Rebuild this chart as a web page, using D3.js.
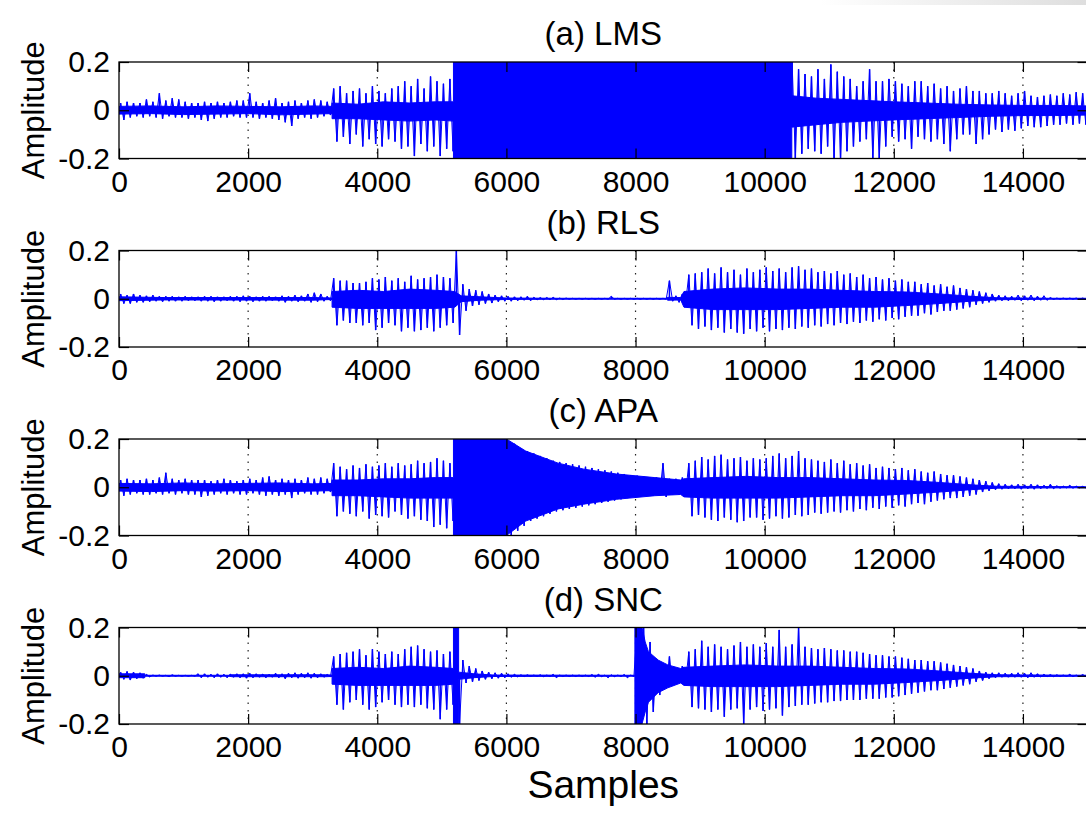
<!DOCTYPE html>
<html>
<head>
<meta charset="utf-8">
<script src="https://cdn.jsdelivr.net/npm/d3@7"></script>
<style>
  body { margin: 0; background: #fff; }
  text { font-family: "Liberation Sans", Arial, Helvetica, sans-serif; fill: #000; }
</style>
</head>
<body>
<svg id="chart"></svg>
<script>
const width = 1086;
const height = 816;

// each panel: envelope per 100-sample bin
const binSize = 100;
const xTicks = [0, 2000, 4000, 6000, 8000, 10000, 12000, 14000];
const yTicks = [-0.2, 0, 0.2];
const yTickLabels = ["-0.2", "0", "0.2"];
const titles = ["(a) LMS", "(b) RLS", "(c) APA", "(d) SNC"];

const lmsHi = [
  .03,.035,.03,.03,.045,.035,.07,.04,.05,.045,
  .035,.03,.03,.035,.03,.035,.03,.035,.04,.04,
  .07,.035,.03,.04,.05,.03,.035,.04,.03,.04,
  .045,.04,.035,.09,.1,.07,.08,.09,.07,.1,
  .08,.07,.09,.1,.12,.1,.13,.09,.14,.12,
  .11,.13,.2,.2,.2,.2,.2,.2,.2,.2,
  .2,.2,.2,.2,.2,.2,.2,.2,.2,.2,
  .2,.2,.2,.2,.2,.2,.2,.2,.2,.2,
  .2,.2,.2,.2,.2,.2,.2,.2,.2,.2,
  .2,.2,.2,.2,.2,.2,.2,.2,.2,.2,
  .2,.2,.2,.2,.2,.17,.15,.14,.17,.13,
  .19,.16,.14,.13,.1,.12,.17,.12,.12,.13,
  .12,.11,.1,.12,.12,.1,.11,.09,.1,.08,
  .09,.1,.08,.08,.07,.07,.08,.07,.06,.07,
  .08,.06,.055,.06,.065,.06,.07,.065,.075,.07
];
const lmsLo = [
  -.04,-.03,-.025,-.03,-.025,-.03,-.035,-.025,-.03,-.03,
  -.035,-.03,-.04,-.045,-.035,-.03,-.03,-.025,-.03,-.03,
  -.03,-.035,-.03,-.035,-.04,-.05,-.065,-.035,-.03,-.035,
  -.03,-.025,-.02,-.13,-.11,-.14,-.1,-.15,-.12,-.14,
  -.15,-.12,-.13,-.16,-.15,-.19,-.14,-.17,-.15,-.19,
  -.16,-.17,-.2,-.2,-.2,-.2,-.2,-.2,-.2,-.2,
  -.2,-.2,-.2,-.2,-.2,-.2,-.2,-.2,-.2,-.2,
  -.2,-.2,-.2,-.2,-.2,-.2,-.2,-.2,-.2,-.2,
  -.2,-.2,-.2,-.2,-.2,-.2,-.2,-.2,-.2,-.2,
  -.2,-.2,-.2,-.2,-.2,-.2,-.2,-.2,-.2,-.2,
  -.2,-.2,-.2,-.2,-.2,-.18,-.16,-.17,-.18,-.15,
  -.2,-.2,-.17,-.15,-.13,-.12,-.2,-.2,-.15,-.11,
  -.13,-.12,-.16,-.11,-.12,-.13,-.12,-.14,-.17,-.12,
  -.1,-.1,-.14,-.12,-.1,-.08,-.09,-.08,-.085,-.075,
  -.065,-.07,-.07,-.065,-.06,-.06,-.055,-.06,-.055,-.06
];
// dense (solid) middle of the trace: [sample, top, bottom]
const lmsCore = [
  [0, .016, -.016], [500, .018, -.014], [1000, .014, -.018], [1500, .018, -.016],
  [2000, .016, -.014], [2500, .014, -.019], [3000, .018, -.016], [3300, .016, -.014],
  [3300, .03, -.035], [3700, .025, -.035], [4100, .035, -.04], [4500, .03, -.045],
  [4900, .035, -.04], [5180, .035, -.045], [5180, .2, -.2], [10420, .2, -.2],
  [10420, .06, -.07], [10800, .05, -.06], [11200, .045, -.05], [11600, .04, -.045],
  [12000, .035, -.04], [12500, .03, -.035], [13000, .025, -.03], [13500, .022, -.025],
  [14000, .02, -.022], [14500, .02, -.022], [15000, .018, -.02]
];

const rlsHi = [
  .02,.015,.02,.015,.012,.015,.01,.01,.01,.008,
  .01,.008,.008,.01,.01,.008,.008,.01,.01,.012,
  .01,.008,.01,.01,.008,.012,.01,.015,.012,.02,
  .025,.02,.01,.085,.075,.075,.065,.065,.07,.085,
  .08,.09,.075,.085,.07,.095,.08,.085,.09,.1,
  .09,.085,.2,.06,.04,.035,.03,.02,.015,.012,
  .01,.008,.008,.01,.006,.005,.005,.006,.003,.003,
  .002,.002,.002,.002,.002,.002,.01,.002,.002,.002,
  .002,.002,.002,.002,.002,.075,.012,.02,.1,.105,
  .11,.125,.105,.13,.11,.12,.1,.125,.11,.12,
  .13,.115,.125,.11,.13,.135,.12,.125,.11,.115,
  .105,.115,.1,.105,.09,.1,.085,.09,.08,.085,
  .075,.08,.07,.07,.06,.065,.055,.06,.05,.055,
  .045,.04,.035,.03,.025,.02,.015,.012,.01,.015,
  .012,.015,.01,.012,.005,.003,.003,.003,.003,.003
];
const rlsLo = [
  -.02,-.02,-.015,-.015,-.012,-.01,-.012,-.01,-.01,-.01,
  -.008,-.008,-.01,-.01,-.012,-.01,-.008,-.01,-.012,-.01,
  -.012,-.01,-.01,-.008,-.01,-.015,-.01,-.012,-.01,-.015,
  -.012,-.01,-.008,-.11,-.09,-.1,-.1,-.11,-.1,-.13,
  -.12,-.1,-.11,-.135,-.12,-.135,-.13,-.12,-.135,-.12,
  -.11,-.1,-.15,-.05,-.03,-.025,-.02,-.018,-.012,-.01,
  -.01,-.008,-.006,-.008,-.005,-.004,-.004,-.004,-.003,-.002,
  -.002,-.002,-.002,-.002,-.002,-.002,-.002,-.002,-.002,-.002,
  -.002,-.002,-.002,-.002,-.002,-.01,-.015,-.02,-.11,-.125,
  -.115,-.13,-.12,-.14,-.125,-.14,-.145,-.125,-.135,-.12,
  -.135,-.125,-.13,-.12,-.125,-.115,-.12,-.11,-.115,-.105,
  -.11,-.1,-.105,-.095,-.1,-.09,-.095,-.085,-.09,-.08,
  -.085,-.075,-.07,-.07,-.06,-.065,-.055,-.05,-.05,-.045,
  -.04,-.035,-.025,-.02,-.015,-.01,-.008,-.008,-.006,-.008,
  -.006,-.008,-.006,-.006,-.003,-.002,-.002,-.002,-.002,-.002
];
const rlsCore = [
  [0, .008, -.008], [700, .005, -.005], [3000, .005, -.006], [3300, .003, -.003],
  [3300, .03, -.035], [3700, .035, -.04], [4100, .03, -.04], [4500, .04, -.04],
  [4900, .035, -.04], [5200, .03, -.035], [5300, .012, -.012], [5600, .008, -.006],
  [6000, .003, -.003], [6800, .002, -.002], [8480, .002, -.002], [8500, .006, -.006],
  [8700, .005, -.005], [8750, .03, -.035], [9200, .04, -.045], [9700, .045, -.045],
  [10200, .04, -.045], [10700, .04, -.04], [11200, .035, -.035], [11700, .03, -.035],
  [12200, .028, -.028], [12700, .02, -.02], [13200, .01, -.01], [13600, .004, -.004],
  [14400, .002, -.002], [15000, .002, -.002]
];

const apaHi = [
  .03,.035,.03,.03,.035,.03,.04,.06,.035,.03,
  .035,.03,.03,.03,.025,.03,.035,.03,.025,.03,
  .035,.03,.04,.045,.03,.035,.03,.035,.03,.04,
  .035,.04,.035,.1,.085,.075,.09,.08,.095,.085,
  .09,.1,.085,.1,.09,.095,.11,.1,.105,.12,
  .11,.1,.2,.2,.2,.2,.2,.2,.2,.2,
  .19,.18,.16,.15,.14,.13,.12,.11,.105,.1,
  .095,.09,.085,.08,.075,.07,.065,.06,.055,.05,
  .048,.045,.04,.04,.1,.035,.035,.04,.1,.11,
  .125,.115,.13,.135,.115,.12,.125,.11,.12,.115,
  .12,.13,.14,.12,.13,.15,.12,.115,.11,.105,
  .115,.1,.11,.095,.1,.09,.095,.08,.085,.08,
  .075,.08,.07,.075,.065,.06,.065,.055,.05,.05,
  .045,.04,.035,.03,.025,.02,.015,.012,.01,.012,
  .01,.012,.01,.008,.012,.006,.005,.008,.005,.004
];
const apaLo = [
  -.035,-.03,-.025,-.03,-.03,-.025,-.03,-.025,-.03,-.025,
  -.03,-.03,-.04,-.035,-.03,-.025,-.03,-.025,-.03,-.03,
  -.025,-.03,-.035,-.03,-.035,-.03,-.045,-.03,-.025,-.03,
  -.03,-.025,-.02,-.12,-.1,-.11,-.12,-.1,-.13,-.115,
  -.12,-.125,-.1,-.115,-.13,-.12,-.135,-.14,-.165,-.155,
  -.17,-.14,-.2,-.2,-.2,-.2,-.2,-.2,-.2,-.2,
  -.2,-.18,-.16,-.14,-.13,-.12,-.11,-.1,-.095,-.09,
  -.085,-.08,-.075,-.07,-.065,-.06,-.055,-.05,-.045,-.04,
  -.04,-.035,-.035,-.03,-.04,-.03,-.03,-.03,-.12,-.115,
  -.125,-.135,-.14,-.125,-.135,-.145,-.14,-.125,-.125,-.135,
  -.13,-.12,-.13,-.125,-.115,-.12,-.115,-.105,-.11,-.105,
  -.1,-.105,-.095,-.1,-.09,-.095,-.085,-.09,-.08,-.085,
  -.075,-.08,-.07,-.065,-.07,-.06,-.055,-.05,-.045,-.045,
  -.04,-.035,-.03,-.02,-.015,-.01,-.008,-.006,-.006,-.008,
  -.006,-.008,-.006,-.005,-.006,-.004,-.003,-.004,-.003,-.003
];
const apaCore = [
  [0, .016, -.016], [500, .014, -.018], [1000, .018, -.014], [1500, .014, -.016],
  [2000, .016, -.014], [2500, .018, -.018], [3000, .014, -.016], [3300, .016, -.014],
  [3300, .03, -.035], [3700, .03, -.035], [4100, .035, -.04], [4500, .035, -.045],
  [4900, .04, -.045], [5180, .04, -.045], [5180, .2, -.2], [6000, .2, -.2],
  [6300, .15, -.14], [6800, .1, -.09], [7200, .075, -.07], [7700, .055, -.05],
  [8300, .04, -.035], [8700, .03, -.03], [8750, .035, -.04], [9200, .04, -.045],
  [9700, .045, -.045], [10200, .04, -.045], [10700, .04, -.04], [11200, .035, -.035],
  [11700, .03, -.035], [12200, .028, -.028], [12700, .02, -.02], [13200, .01, -.01],
  [13600, .004, -.004], [15000, .002, -.002]
];

const sncHi = [
  .015,.018,.015,.012,.006,.003,.003,.002,.004,.002,
  .002,.002,.008,.008,.006,.008,.006,.007,.008,.008,
  .01,.008,.007,.006,.01,.008,.01,.012,.01,.012,
  .01,.008,.005,.08,.09,.095,.1,.11,.085,.11,
  .1,.09,.1,.09,.11,.12,.125,.11,.1,.105,
  .09,.1,.2,.065,.04,.03,.02,.015,.012,.01,
  .008,.006,.004,.004,.003,.004,.003,.006,.003,.003,
  .003,.003,.003,.005,.006,.003,.004,.003,.005,.003,
  .2,.2,.14,.07,.045,.08,.03,.04,.1,.11,
  .145,.12,.13,.12,.11,.125,.14,.12,.13,.12,
  .135,.12,.19,.12,.13,.2,.12,.115,.11,.115,
  .11,.105,.105,.1,.1,.095,.09,.085,.085,.08,
  .08,.075,.07,.065,.065,.06,.06,.055,.05,.045,
  .04,.035,.03,.02,.015,.012,.012,.01,.01,.012,
  .01,.012,.008,.006,.005,.004,.003,.006,.003,.005
];
const sncLo = [
  -.015,-.018,-.012,-.01,-.005,-.002,-.002,-.004,-.002,-.002,
  -.002,-.002,-.008,-.006,-.008,-.006,-.008,-.006,-.008,-.01,
  -.008,-.006,-.008,-.006,-.008,-.012,-.008,-.01,-.008,-.01,
  -.008,-.006,-.004,-.12,-.14,-.11,-.1,-.12,-.14,-.13,
  -.11,-.1,-.12,-.13,-.12,-.13,-.12,-.135,-.14,-.18,
  -.14,-.12,-.2,-.03,-.025,-.02,-.015,-.012,-.01,-.008,
  -.006,-.005,-.004,-.003,-.003,-.004,-.003,-.008,-.003,-.003,
  -.003,-.003,-.003,-.006,-.004,-.008,-.004,-.003,-.008,-.003,
  -.2,-.2,-.15,-.08,-.05,-.04,-.03,-.03,-.13,-.135,
  -.14,-.15,-.14,-.17,-.14,-.135,-.2,-.14,-.13,-.145,
  -.14,-.135,-.165,-.13,-.125,-.12,-.12,-.115,-.11,-.11,
  -.105,-.105,-.1,-.1,-.1,-.095,-.095,-.095,-.09,-.09,
  -.085,-.08,-.075,-.07,-.065,-.06,-.06,-.055,-.05,-.045,
  -.04,-.035,-.025,-.02,-.012,-.008,-.006,-.006,-.006,-.006,
  -.008,-.006,-.005,-.004,-.004,-.003,-.003,-.004,-.003,-.003
];
const sncCore = [
  [0, .008, -.008], [400, .008, -.008], [400, .002, -.002], [1700, .002, -.002],
  [1750, .004, -.004], [3200, .004, -.004], [3300, .003, -.003], [3300, .03, -.035],
  [3700, .035, -.04], [4100, .03, -.04], [4500, .04, -.04], [4900, .035, -.04],
  [5180, .03, -.035], [5180, .2, -.2], [5260, .2, -.2], [5260, .015, -.015],
  [5500, .008, -.008], [5800, .003, -.003], [7990, .002, -.002], [7990, .2, -.2],
  [8100, .2, -.2], [8150, .14, -.15], [8200, .1, -.11], [8350, .065, -.07],
  [8500, .045, -.05], [8700, .03, -.03], [8750, .035, -.04], [9200, .04, -.045],
  [9700, .045, -.045], [10200, .04, -.045], [10700, .04, -.04], [11200, .035, -.035],
  [11700, .03, -.035], [12200, .028, -.028], [12700, .02, -.02], [13200, .01, -.01],
  [13600, .004, -.004], [15000, .002, -.002]
];

const panels = [
  { title: titles[0], hi: lmsHi, lo: lmsLo, core: lmsCore },
  { title: titles[1], hi: rlsHi, lo: rlsLo, core: rlsCore },
  { title: titles[2], hi: apaHi, lo: apaLo, core: apaCore },
  { title: titles[3], hi: sncHi, lo: sncLo, core: sncCore }
];

const left = 119;
const right = 1087.5;
const firstTop = 62;
const step = 188.5;
const plotH = 96.5;
const blue = "#0000ff";

const svg = d3.select("#chart").attr("width", width).attr("height", height);

// faint grey strip at the top right of the screenshot
const grad = svg.append("defs").append("linearGradient").attr("id", "strip");
grad.append("stop").attr("offset", 0).attr("stop-color", "#ffffff");
grad.append("stop").attr("offset", 1).attr("stop-color", "#dedede");
svg.append("rect").attr("x", 820).attr("y", 0).attr("width", 266).attr("height", 5)
  .attr("fill", "url(#strip)");

const x = d3.scaleLinear().domain([0, 15000]).range([left, right]);

panels.forEach((p, i) => {
  const top = firstTop + i * step;
  const y = d3.scaleLinear().domain([-0.2, 0.2]).range([top + plotH, top]);

  svg.append("clipPath").attr("id", "clip" + i)
    .append("rect").attr("x", left).attr("y", top)
    .attr("width", right - left).attr("height", plotH);

  // dotted grid
  svg.append("g")
    .selectAll("line")
    .data(xTicks.slice(1))
    .enter()
    .append("line")
    .attr("x1", d => x(d)).attr("x2", d => x(d))
    .attr("y1", top).attr("y2", top + plotH)
    .attr("stroke", "#222").attr("stroke-width", 1.2)
    .attr("stroke-dasharray", "1.5,6");

  const plot = svg.append("g").attr("clip-path", `url(#clip${i})`);

  const area = d3.area()
    .x(d => x(d[0]))
    .y0(d => y(d[2]))
    .y1(d => y(d[1]));

  plot.append("path")
    .attr("d", area(p.core))
    .attr("fill", blue)
    .attr("stroke", blue)
    .attr("stroke-width", 1);

  // trace zig-zags between the low and high of each bin
  const trace = [];
  p.hi.forEach((v, k) => {
    trace.push([k * binSize + 25, v]);
    trace.push([k * binSize + 75, p.lo[k]]);
  });
  plot.append("path")
    .attr("d", d3.line().x(d => x(d[0])).y(d => y(d[1]))(trace))
    .attr("fill", "none")
    .attr("stroke", blue)
    .attr("stroke-width", 1)
    .attr("stroke-linejoin", "bevel");

  // plus a vertical stroke from zero to each extreme
  const spikes = d3.path();
  p.hi.forEach((v, k) => {
    const xa = x(k * binSize + 25);
    spikes.moveTo(xa, y(0));
    spikes.lineTo(xa, y(v));
    const xb = x(k * binSize + 75);
    spikes.moveTo(xb, y(0));
    spikes.lineTo(xb, y(p.lo[k]));
  });
  plot.append("path")
    .attr("d", spikes.toString())
    .attr("fill", "none")
    .attr("stroke", blue)
    .attr("stroke-width", 1.5);

  // axes, ticks pointing inward like MATLAB
  const xAxis = svg.append("g")
    .attr("transform", `translate(0, ${top + plotH})`)
    .call(d3.axisBottom(x).tickValues(xTicks).tickSize(-10).tickPadding(12).tickFormat(d3.format("d")));
  svg.append("g")
    .attr("transform", `translate(0, ${top})`)
    .call(d3.axisTop(x).tickValues(xTicks).tickSize(-10).tickFormat(""));
  const yAxis = svg.append("g")
    .attr("transform", `translate(${left}, 0)`)
    .call(d3.axisLeft(y).tickValues(yTicks).tickSize(-10).tickPadding(9)
      .tickFormat((d, k) => yTickLabels[k]));
  svg.append("g")
    .attr("transform", `translate(${right}, 0)`)
    .call(d3.axisRight(y).tickValues(yTicks).tickSize(-10).tickFormat(""));

  svg.selectAll(".domain").remove();
  svg.selectAll(".tick line").attr("stroke", "#000").attr("stroke-width", 1.2);
  xAxis.selectAll("text").style("font-size", "30px").attr("dy", "0.71em");
  yAxis.selectAll("text").style("font-size", "30px");

  svg.append("rect")
    .attr("x", left).attr("y", top)
    .attr("width", right - left).attr("height", plotH)
    .attr("fill", "none").attr("stroke", "#000").attr("stroke-width", 1.3);

  svg.append("text")
    .attr("x", (left + right) / 2)
    .attr("y", top - 17)
    .attr("text-anchor", "middle")
    .style("font-size", "33px")
    .text(p.title);

  svg.append("text")
    .attr("transform", `translate(44, ${top + plotH / 2}) rotate(-90)`)
    .attr("text-anchor", "middle")
    .style("font-size", "31px")
    .text("Amplitude");
});

svg.append("text")
  .attr("x", (left + right) / 2)
  .attr("y", 798)
  .attr("text-anchor", "middle")
  .style("font-size", "39px")
  .text("Samples");
</script>
</body>
</html>
